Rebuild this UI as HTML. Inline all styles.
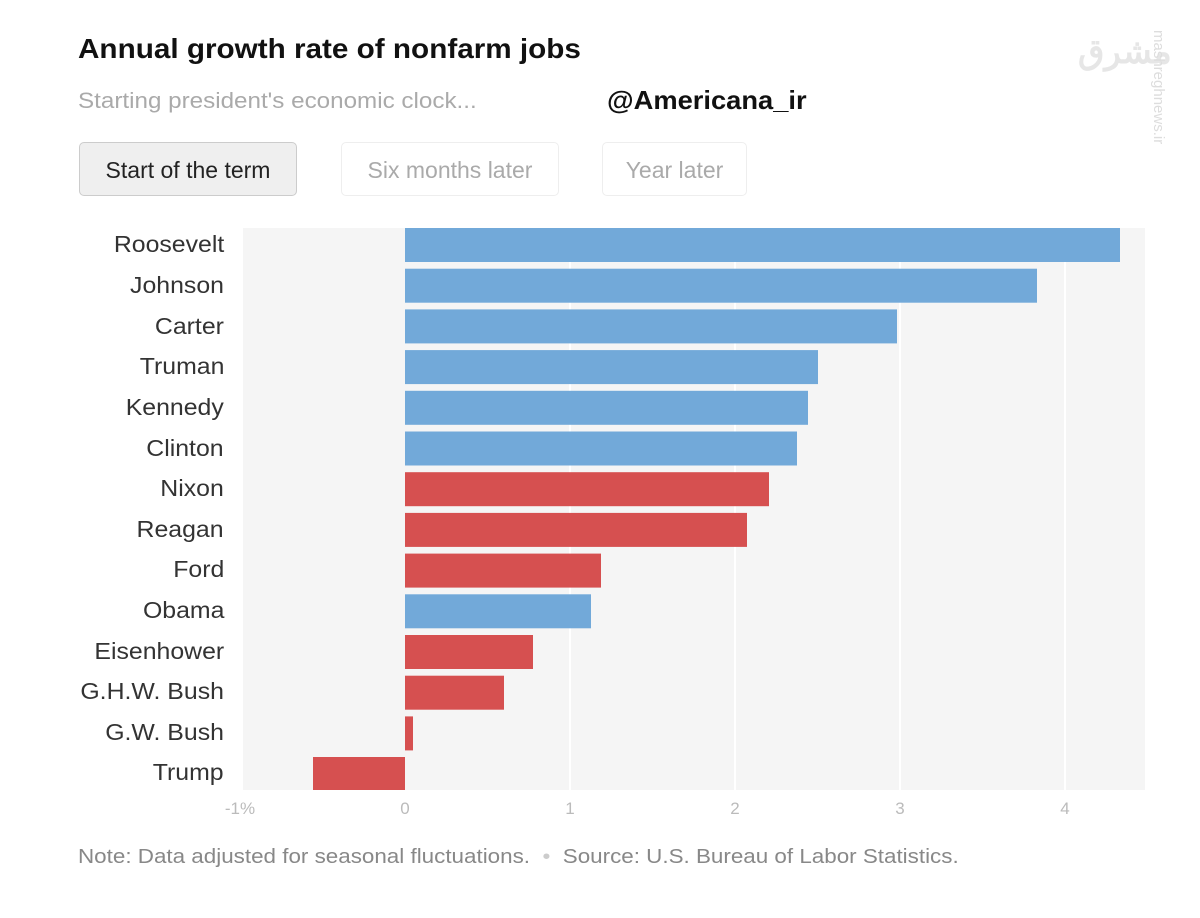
<!DOCTYPE html><html><head><style>
body{margin:0;width:1200px;height:918px;background:#fff;font-family:"Liberation Sans",sans-serif;position:relative;overflow:hidden}
.a{position:absolute;white-space:nowrap}
.btn{position:absolute;top:142px;height:52px;border-radius:5px;font-size:23px;line-height:54px;text-align:center}
.lab{position:absolute;right:976px;font-size:23px;color:#333;text-align:right;transform-origin:right center;transform:scaleX(1.08)}
.tk{position:absolute;top:799px;font-size:17px;color:#bbb;transform:translateX(-50%)}
</style></head><body>
<div class="a" style="left:78px;top:33px;font-size:28px;font-weight:bold;color:#111;transform-origin:left;transform:scaleX(1.06)">Annual growth rate of nonfarm jobs</div>
<div class="a" style="left:78px;top:88px;font-size:22px;color:#aaa;transform-origin:left;transform:scaleX(1.1)">Starting president's economic clock...</div>
<div class="a" style="left:607px;top:85px;font-size:26px;font-weight:bold;color:#111;transform-origin:left;transform:scaleX(1.05)">@Americana_ir</div>
<div class="a" style="left:1078px;top:32px;font-size:34px;font-weight:bold;color:#e6e6e6">مشرق</div>
<div class="a" style="left:1150px;top:30px;font-size:15px;color:#ddd;writing-mode:vertical-rl">mashreghnews.ir</div>
<div class="btn" style="left:79px;width:216px;background:#efefef;border:1px solid #ccc;color:#222">Start of the term</div>
<div class="btn" style="left:341px;width:216px;border:1px solid #eee;color:#aaa">Six months later</div>
<div class="btn" style="left:602px;width:143px;border:1px solid #eee;color:#aaa">Year later</div>
<svg class="a" style="left:0;top:0" width="1200" height="918">
<rect x="243" y="228" width="902" height="562" fill="#f5f5f5"/>
<g stroke="#fff" stroke-width="2"><line x1="570" y1="228" x2="570" y2="790"/><line x1="735" y1="228" x2="735" y2="790"/><line x1="900" y1="228" x2="900" y2="790"/><line x1="1065" y1="228" x2="1065" y2="790"/></g>
<g>
<rect x="405" y="228" width="715" height="34" fill="#72a9d9"/>
<rect x="405" y="268.7" width="632" height="34" fill="#72a9d9"/>
<rect x="405" y="309.4" width="492" height="34" fill="#72a9d9"/>
<rect x="405" y="350.1" width="413" height="34" fill="#72a9d9"/>
<rect x="405" y="390.8" width="403" height="34" fill="#72a9d9"/>
<rect x="405" y="431.5" width="392" height="34" fill="#72a9d9"/>
<rect x="405" y="472.2" width="364" height="34" fill="#d65050"/>
<rect x="405" y="512.9" width="342" height="34" fill="#d65050"/>
<rect x="405" y="553.6" width="196" height="34" fill="#d65050"/>
<rect x="405" y="594.3" width="186" height="34" fill="#72a9d9"/>
<rect x="405" y="635" width="128" height="34" fill="#d65050"/>
<rect x="405" y="675.7" width="99" height="34" fill="#d65050"/>
<rect x="405" y="716.4" width="8" height="34" fill="#d65050"/>
<rect x="313" y="757" width="92" height="33" fill="#d65050"/>
</g></svg>
<div class="lab" style="top:231px">Roosevelt</div>
<div class="lab" style="top:272px">Johnson</div>
<div class="lab" style="top:313px">Carter</div>
<div class="lab" style="top:353px">Truman</div>
<div class="lab" style="top:394px">Kennedy</div>
<div class="lab" style="top:435px">Clinton</div>
<div class="lab" style="top:475px">Nixon</div>
<div class="lab" style="top:516px">Reagan</div>
<div class="lab" style="top:556px">Ford</div>
<div class="lab" style="top:597px">Obama</div>
<div class="lab" style="top:638px">Eisenhower</div>
<div class="lab" style="top:678px">G.H.W. Bush</div>
<div class="lab" style="top:719px">G.W. Bush</div>
<div class="lab" style="top:759px">Trump</div>
<div class="tk" style="left:240px">-1%</div>
<div class="tk" style="left:405px">0</div>
<div class="tk" style="left:570px">1</div>
<div class="tk" style="left:735px">2</div>
<div class="tk" style="left:900px">3</div>
<div class="tk" style="left:1065px">4</div>
<div class="a" style="left:78px;top:846px;font-size:20px;color:#888;transform-origin:left;transform:scaleX(1.12)">Note: Data adjusted for seasonal fluctuations. &nbsp;<span style="color:#ccc">•</span>&nbsp; Source: U.S. Bureau of Labor Statistics.</div>
</body></html>
